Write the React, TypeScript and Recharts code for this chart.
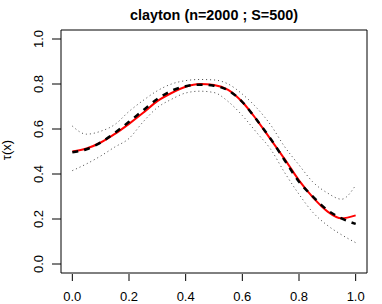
import React from "react";
import { LineChart, Line, XAxis, YAxis, ReferenceArea } from "recharts";

const xs = [0, 0.05, 0.1, 0.15, 0.2, 0.25, 0.3, 0.35, 0.4, 0.45, 0.5, 0.55, 0.6, 0.65, 0.7, 0.75, 0.8, 0.85, 0.9, 0.95, 1.0];
const trueTau = [0.5, 0.513, 0.54, 0.578, 0.623, 0.672, 0.724, 0.76, 0.788, 0.8, 0.796, 0.774, 0.72, 0.642, 0.554, 0.465, 0.372, 0.295, 0.234, 0.203, 0.216];
const estTau = [0.497, 0.51, 0.54, 0.583, 0.632, 0.683, 0.733, 0.77, 0.79, 0.797, 0.792, 0.772, 0.72, 0.642, 0.556, 0.46, 0.366, 0.298, 0.24, 0.203, 0.178];
const upperBand = [0.613, 0.577, 0.59, 0.62, 0.678, 0.727, 0.77, 0.8, 0.815, 0.82, 0.818, 0.8, 0.755, 0.695, 0.618, 0.52, 0.44, 0.363, 0.316, 0.288, 0.35];
const lowerBand = [0.415, 0.445, 0.48, 0.52, 0.558, 0.632, 0.695, 0.732, 0.76, 0.768, 0.762, 0.722, 0.66, 0.585, 0.51, 0.405, 0.31, 0.228, 0.172, 0.13, 0.095];
const tickValues = [0, 0.2, 0.4, 0.6, 0.8, 1.0];
const titleText = "clayton (n=2000 ; S=500)";
const yLabel = "τ(x)";

const data = xs.map((x, i) => ({
  x,
  truth: trueTau[i],
  est: estTau[i],
  up: upperBand[i],
  lo: lowerBand[i],
}));

const FONT = "'Liberation Sans', Arial, Helvetica, sans-serif";
const DOMAIN: [number, number] = [-0.04, 1.04];

const XTick = (props: any) => {
  const { x, y, payload } = props;
  return (
    <g>
      <line x1={x} x2={x} y1={y + 1} y2={y + 8} stroke="#000" strokeWidth={1} />
      <text x={x} y={y + 28.4} textAnchor="middle" fontSize={13} fontFamily={FONT} fill="#000">
        {Number(payload.value).toFixed(1)}
      </text>
    </g>
  );
};

const YTick = (props: any) => {
  const { x, y, payload } = props;
  const bx = x - 18;
  return (
    <g>
      <line x1={x - 9} x2={x} y1={y} y2={y} stroke="#000" strokeWidth={1} />
      <text
        x={bx}
        y={y}
        transform={`rotate(-90, ${bx}, ${y})`}
        textAnchor="middle"
        fontSize={13}
        fontFamily={FONT}
        fill="#000"
      >
        {Number(payload.value).toFixed(1)}
      </text>
    </g>
  );
};

export default function App() {
  return (
    <div style={{ position: "absolute", left: 0, top: 0, width: 382, height: 304, background: "#fff" }}>
      <LineChart
        width={382}
        height={304}
        data={data}
        margin={{ top: 30, right: 15, bottom: 0, left: 0 }}
      >
        <XAxis
          dataKey="x"
          type="number"
          domain={DOMAIN}
          ticks={tickValues}
          allowDataOverflow
          axisLine={false}
          tickLine={false}
          tickSize={0}
          tickMargin={0}
          height={31}
          tick={<XTick />}
          interval={0}
        />
        <YAxis
          type="number"
          domain={DOMAIN}
          ticks={tickValues}
          allowDataOverflow
          axisLine={false}
          tickLine={false}
          tickSize={0}
          tickMargin={0}
          width={61}
          tick={<YTick />}
          interval={0}
        />
        <ReferenceArea
          x1={-0.04}
          x2={1.04}
          y1={-0.04}
          y2={1.04}
          fill="none"
          fillOpacity={0}
          stroke="#000"
          strokeWidth={1}
          ifOverflow="visible"
        />
        <Line type="monotone" dataKey="up" stroke="#444" strokeWidth={1} strokeDasharray="1 3" dot={false} isAnimationActive={false} />
        <Line type="monotone" dataKey="lo" stroke="#444" strokeWidth={1} strokeDasharray="1 3" dot={false} isAnimationActive={false} />
        <Line type="monotone" dataKey="truth" stroke="#ff0000" strokeWidth={2} dot={false} isAnimationActive={false} />
        <Line type="monotone" dataKey="est" stroke="#000" strokeWidth={2.5} strokeDasharray="6 6" dot={false} isAnimationActive={false} />
      </LineChart>
      <svg width={382} height={304} style={{ position: "absolute", left: 0, top: 0, pointerEvents: "none" }}>
        <text x={214} y={20} textAnchor="middle" fontSize={14.4} fontWeight="bold" fontFamily={FONT} fill="#000">
          {titleText}
        </text>
        <text
          x={11}
          y={150}
          transform="rotate(-90, 11, 150)"
          textAnchor="middle"
          fontSize={13}
          fontFamily={FONT}
          fill="#000"
        >
          {yLabel}
        </text>
      </svg>
    </div>
  );
}
